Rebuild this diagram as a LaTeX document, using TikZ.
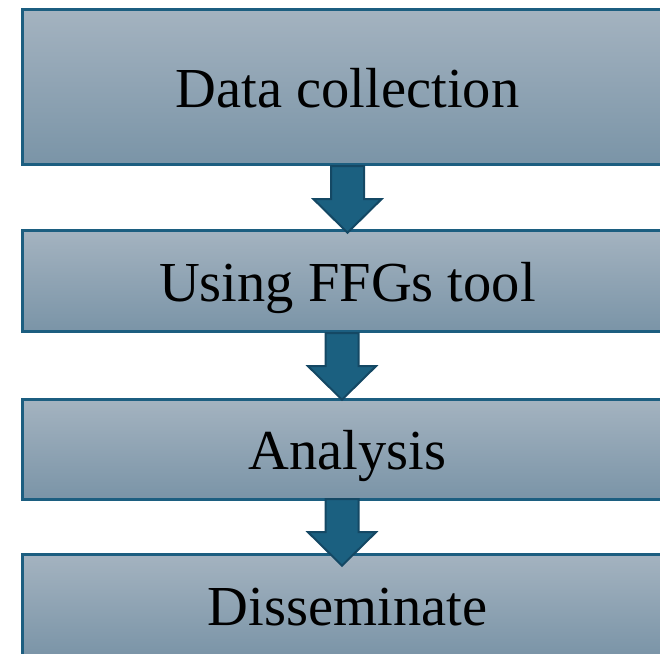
\documentclass[tikz,border=0pt]{standalone}
\usepackage{fontspec}
\setmainfont{Liberation Serif}
\usepackage{tikz}
\usepackage{xcolor}
\usetikzlibrary{positioning}

\definecolor{boxtop}{RGB}{164,179,192}
\definecolor{boxbottom}{RGB}{122,148,167}
\definecolor{boxline}{RGB}{28,94,128}
\definecolor{arrowfill}{RGB}{27,96,128}
\definecolor{arrowline}{RGB}{20,72,100}

\tikzset{
    stagebox/.style={draw=boxline, line width=2.8pt, rectangle, align=center,
        top color=boxtop, bottom color=boxbottom, minimum width=650pt,
        minimum height=101.5pt, inner sep=0pt, text height=40pt, text depth=0pt,
        font=\fontsize{56.5}{60}\selectfont},
    blockarrow/.style={draw=arrowline, fill=arrowfill, line width=2pt, line join=miter}
}

\begin{document}
\begin{tikzpicture}[x=1pt, y=1pt]
                \useasboundingbox (0,0) rectangle (660,-653);

                \node[stagebox, minimum height=155.5pt] (collect) at (347.5, -87) {Data collection};
                \node[stagebox] (ffgtool) at (347.5, -281) {Using FFGs tool};
                \node[stagebox, minimum height=100.5pt] (analysis) at (347.5, -449.5) {Analysis};
                \node[stagebox, minimum height=102.5pt] (dissem) at (347.5, -605.5) {Disseminate};

                \draw[blockarrow] ([xshift=-16.5pt]collect.south) -- ++(0,-33) -- ++(-17.5,0) -- ++(34,-33.5) -- ++(34,33.5) -- ++(-17.5,0) -- ++(0,33) -- cycle;
                \draw[blockarrow] ([xshift=-22pt]ffgtool.south) -- ++(0,-33) -- ++(-17.5,0) -- ++(34,-33.5) -- ++(34,33.5) -- ++(-17.5,0) -- ++(0,33) -- cycle;
                \draw[blockarrow] ([xshift=-22pt,yshift=2pt]analysis.south) -- ++(0,-33) -- ++(-17.5,0) -- ++(34,-33.5) -- ++(34,33.5) -- ++(-17.5,0) -- ++(0,33) -- cycle;
            \end{tikzpicture}
\end{document}
